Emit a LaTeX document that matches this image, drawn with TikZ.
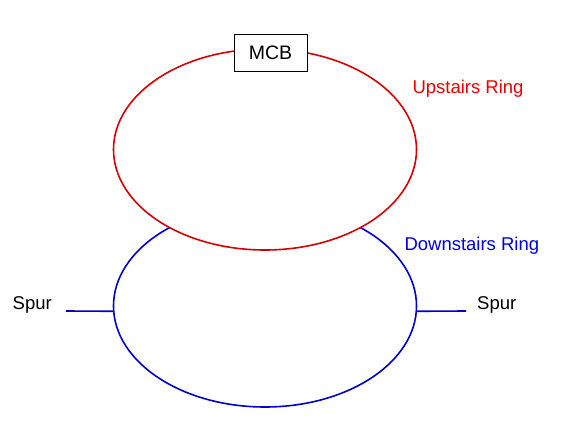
\documentclass[tikz,border=0pt]{standalone}
\usepackage{fontspec}
\setmainfont{Liberation Sans}
\usetikzlibrary{shapes.geometric}
\definecolor{ringred}{RGB}{215,0,0}
\definecolor{ringblue}{RGB}{0,0,205}
\definecolor{labred}{RGB}{235,0,0}
\definecolor{labblue}{RGB}{0,0,225}
\tikzset{
  ring/.style={ellipse, inner sep=0pt, outer sep=0pt, line width=1.6pt},
  lab/.style={anchor=base west, inner sep=0pt, font=\fontsize{18.5}{20}\selectfont},
  spurline/.style={draw=ringblue, line width=1.6pt},
  mcbbox/.style={draw=black, line width=0.8pt, fill=white, minimum width=73pt, minimum height=37.5pt, inner sep=0pt, font=\fontsize{19.5}{21}\selectfont}
}
\begin{document}
\begin{tikzpicture}[x=1pt,y=-1pt]
\useasboundingbox[fill=white] (0,0) rectangle (565,441);
\node[ring, draw=ringblue, minimum width=303pt, minimum height=202pt] (down) at (265,306) {};
\node[ring, draw=ringred, fill=white, minimum width=303pt, minimum height=201pt] (up) at (265,149.5) {};
\node[mcbbox] (mcb) at (270.5,52.7) {MCB};
\coordinate (spurLend) at (66,311);
\coordinate (spurRend) at (466,311);
\draw[spurline] (down.182) -- (spurLend);
\draw[spurline] (down.358) -- (spurRend);
\node[lab, text=black] (spurL) at (12.5,309.3) {Spur};
\node[lab, text=black] (spurR) at (477,309.3) {Spur};
\node[lab, text=labred] (uplab) at (412.3,93.3) {Upstairs Ring};
\node[lab, text=labblue] (downlab) at (404.3,250.7) {Downstairs Ring};
\end{tikzpicture}
\end{document}
